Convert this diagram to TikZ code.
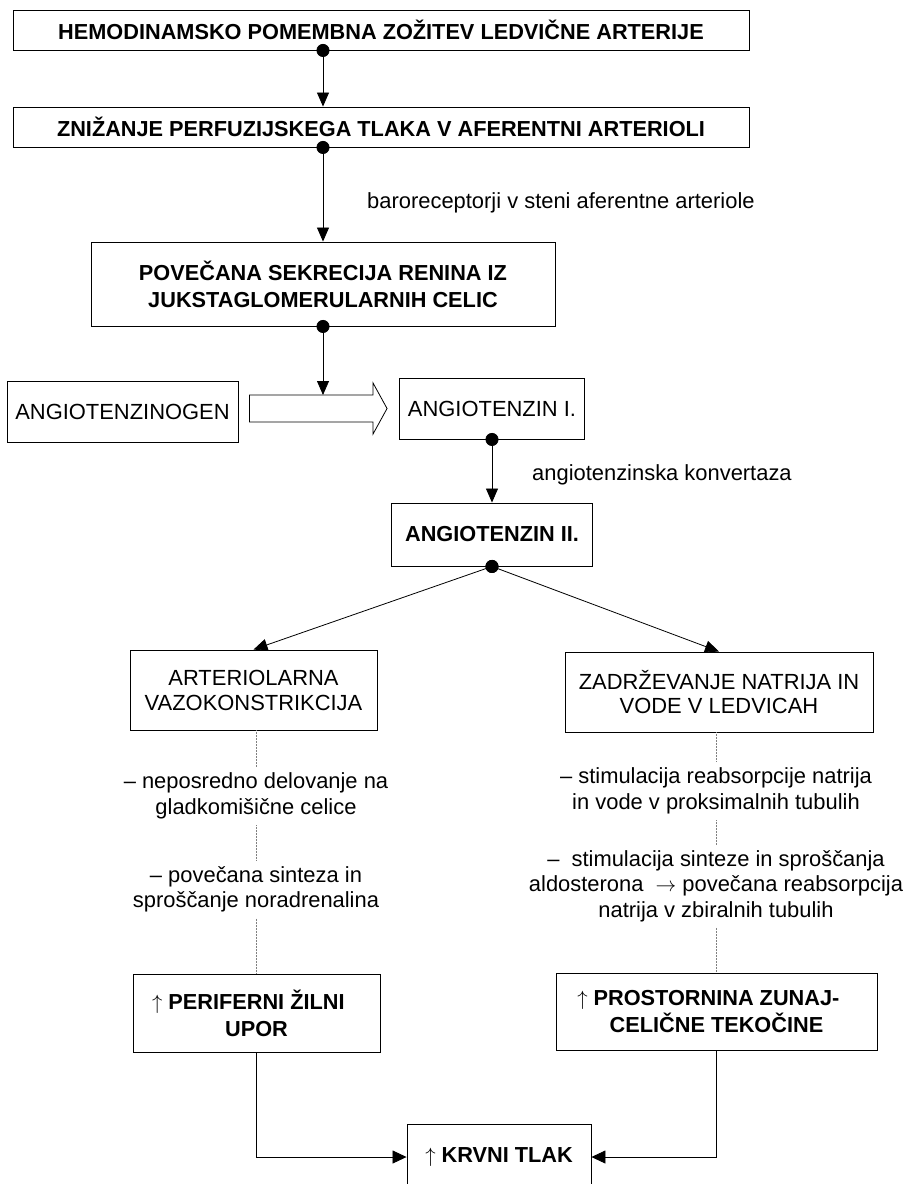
\documentclass[tikz,border=0pt]{standalone}
\usepackage{fontspec}
\setmainfont{Liberation Sans}
\usepackage{tikz}
\usetikzlibrary{
	arrows.meta,
	calc
}

\begin{document}
\begin{tikzpicture}[
    x=1bp, y=-1bp,
    box/.style = { draw,line width=0.9bp,inner sep=0pt,align=center,font=\fontsize{22}{25}\selectfont },
    boldbox/.style = { box,font=\fontsize{21.8}{27}\selectfont\bfseries },
    note/.style = { align=center,inner sep=6bp,font=\fontsize{22}{25.5}\selectfont },
    lbl/.style = { anchor=west,inner sep=0pt,font=\fontsize{22}{25}\selectfont },
    arrowstyle/.style = { -{Triangle[length=14bp,width=13bp]},line width=0.8bp },
    dotarrow/.style = { {Circle[length=13bp]}-{Triangle[length=14bp,width=12bp]},shorten <=-6.5bp,line width=0.8bp },
    dotline/.style = { densely dotted,line width=0.5bp,black!50 },
    hollow/.style = { draw,line width=0.8bp,fill=white }
    ]
    \useasboundingbox (0,0) rectangle (908,1184);
    % Definitions
    \coordinate (hem)  at (381,30);
    \coordinate (zni)  at (381,127);
    \coordinate (ren)  at (323,284);
    \coordinate (agn)  at (122.5,411.5);
    \coordinate (an1)  at (492,408.5);
    \coordinate (an2)  at (492,534.5);
    \coordinate (art)  at (253.5,690);
    \coordinate (zad)  at (719,692);
    \coordinate (per)  at (256.5,1013);
    \coordinate (pro)  at (716.5,1011.5);
    \coordinate (krv)  at (499,1157);
    % Nodes
    \node(HZ) at (hem) [boldbox,minimum width=736bp,minimum height=40bp] {HEMODINAMSKO POMEMBNA ZOŽITEV LEDVIČNE ARTERIJE};
    \node(ZP) at (zni) [boldbox,minimum width=736bp,minimum height=40bp] {ZNIŽANJE PERFUZIJSKEGA TLAKA V AFERENTNI ARTERIOLI};
    \node(SR) at (ren) [boldbox,minimum width=464bp,minimum height=84bp] {POVEČANA SEKRECIJA RENINA IZ\\JUKSTAGLOMERULARNIH CELIC};
    \node(AG) at (agn) [box,minimum width=231bp,minimum height=61bp]     {ANGIOTENZINOGEN};
    \node(A1) at (an1) [box,minimum width=185bp,minimum height=61bp]     {ANGIOTENZIN I.};
    \node(A2) at (an2) [boldbox,minimum width=201bp,minimum height=63bp] {ANGIOTENZIN II.};
    \node(AV) at (art) [box,minimum width=247bp,minimum height=80bp]     {ARTERIOLARNA\\VAZOKONSTRIKCIJA};
    \node(ZN) at (zad) [box,minimum width=308bp,minimum height=80bp]     {ZADRŽEVANJE NATRIJA IN\\VODE V LEDVICAH};
    \node(PU) at (per) [boldbox,minimum width=247bp,minimum height=78bp] {\llap{$\uparrow$ }PERIFERNI ŽILNI\\UPOR};
    \node(PT) at (pro) [boldbox,minimum width=321bp,minimum height=77bp] {\llap{$\uparrow$ }PROSTORNINA ZUNAJ-\\CELIČNE TEKOČINE};
    \node(KT) at (krv) [boldbox,minimum width=184bp,minimum height=66bp] {$\uparrow$ KRVNI TLAK};
    \node(br) at (367,203) [lbl] {baroreceptorji v steni aferentne arteriole};
    \node(ak) at (532,475) [lbl] {angiotenzinska konvertaza};
    \node(n1) at (256,796)   [note] {-- neposredno delovanje na\\gladkomišične celice};
    \node(n2) at (256,889.5) [note] {-- povečana sinteza in\\sproščanje noradrenalina};
    \node(n3) at (716,791)   [note] {-- stimulacija reabsorpcije natrija\\in vode v proksimalnih tubulih};
    \node(n4) at (716,886)   [note] {-- \ stimulacija sinteze in sproščanja\\aldosterona \ $\rightarrow$ povečana reabsorpcija\\natrija v zbiralnih tubulih};
    % Block arrow
    \coordinate (tip) at ($(A1.west)+(-12,0)$);
    \coordinate (bodytop) at ($(tip)+(-14,-13.5)$);
    \draw[hollow] (tip) -- ++(-14,-25.5) -- ++(0,12) -- ($(AG.east |- tip)+(11,-13.5)$)
        -- ++(0,27) -- ($(tip)+(-14,13.5)$) -- ++(0,12) -- cycle;
    % Arrows
    \draw[dotarrow]   (HZ.south -| SR.north) -- (ZP.north -| SR.north);
    \draw[dotarrow]   (ZP.south -| SR.north) -- (SR.north);
    \draw[dotarrow]   (SR.south)             -- (SR.south |- bodytop);
    \draw[dotarrow]   (A1.south)             -- (A2.north);
    \draw[dotarrow]   (A2.south)             -- (AV.north);
    \draw[dotarrow]   (A2.south)             -- (ZN.north);
    \draw[arrowstyle] (PU.south)             |- (KT.west);
    \draw[arrowstyle] (PT.south)             |- (KT.east);
    \draw[dotline]    (AV.south -| n1)       -- (n1);
    \draw[dotline]    (n1)                   -- (n2);
    \draw[dotline]    (n2)                   -- (PU.north -| n2);
    \draw[dotline]    (ZN.south -| n3)       -- (n3);
    \draw[dotline]    (n3)                   -- (n4);
    \draw[dotline]    (n4)                   -- (PT.north -| n4);
\end{tikzpicture}
\end{document}
